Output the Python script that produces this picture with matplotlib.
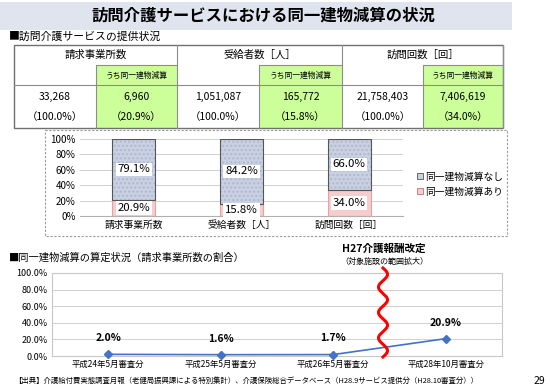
import numpy as np
import matplotlib
matplotlib.use("Agg")
import matplotlib.pyplot as plt
from matplotlib.patches import Rectangle

plt.rcParams['font.family'] = ['Noto Sans CJK JP', 'DejaVu Sans']

# --- data ---
table_groups = ["請求事業所数", "受給者数［人］", "訪問回数［回］"]
table_totals = ["33,268", "1,051,087", "21,758,403"]
table_subs = ["6,960", "165,772", "7,406,619"]
table_total_pct = ["（100.0%）", "（100.0%）", "（100.0%）"]
table_sub_pct = ["（20.9%）", "（15.8%）", "（34.0%）"]

bar_cats = ["請求事業所数", "受給者数［人］", "訪問回数［回］"]
bar_with = [20.9, 15.8, 34.0]      # 同一建物減算あり
bar_without = [79.1, 84.2, 66.0]   # 同一建物減算なし

line_cats = ["平成24年5月審査分", "平成25年5月審査分", "平成26年5月審査分", "平成28年10月審査分"]
line_vals = [2.0, 1.6, 1.7, 20.9]

W, H = 550, 390
fig = plt.figure(figsize=(W / 100, H / 100), dpi=100)


def fbox(x0, y0, x1, y1):
    # pixel box (top-left origin) -> figure fraction rect
    return [x0 / W, 1 - y1 / H, (x1 - x0) / W, (y1 - y0) / H]


# overlay for slide decorations
ov = fig.add_axes([0, 0, 1, 1])
ov.set_xlim(0, W)
ov.set_ylim(H, 0)
ov.axis("off")

ov.add_patch(Rectangle((0, 2), 512, 28, facecolor="#dfe4ef", edgecolor="none"))
ov.text(263, 16, "訪問介護サービスにおける同一建物減算の状況", ha="center", va="center",
        fontsize=11.8, fontweight="bold")
ov.text(9, 37, "■訪問介護サービスの提供状況", ha="left", va="center", fontsize=7.8)

# table
cols = [14, 96, 177, 259, 342, 423, 503]
y_top, y_sub, y_val, y_bot = 45, 65, 85, 128
green = "#ccff99"
lc = "#8c8c8c"
for i in range(3):
    gx0, gmid, gx1 = cols[2 * i], cols[2 * i + 1], cols[2 * i + 2]
    ov.add_patch(Rectangle((gmid, y_sub), gx1 - gmid, y_bot - y_sub,
                           facecolor=green, edgecolor="none"))
    ov.plot([gmid, gmid, gx1], [y_bot, y_sub, y_sub], color=lc, lw=0.8)
    ov.plot([gx1, gx1], [y_top, y_bot], color=lc, lw=0.8)
    ov.text((gx0 + gx1) / 2, 55, table_groups[i], ha="center", va="center", fontsize=7.5)
    ov.text((gmid + gx1) / 2, 76, "うち同一建物減算", ha="center", va="center", fontsize=5.6)
    ov.text((gx0 + gmid) / 2, 97, table_totals[i], ha="center", va="center", fontsize=7.5)
    ov.text((gmid + gx1) / 2, 97, table_subs[i], ha="center", va="center", fontsize=7.5)
    ov.text((gx0 + gmid) / 2, 117, table_total_pct[i], ha="center", va="center", fontsize=7.5)
    ov.text((gmid + gx1) / 2, 117, table_sub_pct[i], ha="center", va="center", fontsize=7.5)
ov.plot([cols[0], cols[-1]], [y_val, y_val], color=lc, lw=0.8)
ov.add_patch(Rectangle((cols[0], y_top), cols[-1] - cols[0], y_bot - y_top,
                       facecolor="none", edgecolor="#707070", lw=1.0))

# dashed frame around bar chart
ov.add_patch(Rectangle((45, 130), 462, 106, facecolor="none", edgecolor="#9a9a9a",
                       lw=0.8, ls=(0, (2, 1.5))))

ov.text(9, 257, "■同一建物減算の算定状況（請求事業所数の割合）", ha="left", va="center",
        fontsize=7.4)
ov.text(384, 249, "H27介護報酬改定", ha="center", va="center", fontsize=7.6, fontweight="bold")
ov.text(384, 261, "（対象施設の範囲拡大）", ha="center", va="center", fontsize=5.8)
ov.text(14, 381, "【出典】介護給付費実態調査月報（老健局振興課による特別集計）、介護保険総合データベース"
        "（H28.9サービス提供分（H28.10審査分））", ha="left", va="center", fontsize=5.3)
ov.text(545, 381, "29", ha="right", va="center", fontsize=7.5)

# --- stacked bar chart ---
ax = fig.add_axes(fbox(80, 139, 403, 216))
x = np.arange(len(bar_cats))
bw = 0.4
ax.bar(x, bar_with, bw, color="#f7cccc", edgecolor="#e8a0a0", lw=0.8, zorder=2)
ax.bar(x, bar_without, bw, bottom=bar_with, color="#c8d0e2", edgecolor="#aeb8cf",
       hatch="....", lw=0, zorder=2)
ax.bar(x, bar_without, bw, bottom=bar_with, fill=False, edgecolor="#555555", lw=0.8, zorder=3)
for xi, a, b in zip(x, bar_with, bar_without):
    bb = dict(facecolor="white", edgecolor="none", pad=1.2)
    ax.text(xi, a / 2, f"{a:.1f}%", ha="center", va="center", fontsize=8.2, bbox=bb, zorder=4)
    ax.text(xi, a + b / 2, f"{b:.1f}%", ha="center", va="center", fontsize=8.2, bbox=bb, zorder=4)
ax.set_xlim(-0.5, 2.5)
ax.set_ylim(0, 100)
ax.set_yticks(range(0, 101, 20))
ax.set_yticklabels([f"{v}%" for v in range(0, 101, 20)], fontsize=7)
ax.set_xticks(x)
ax.set_xticklabels(bar_cats, fontsize=7)
ax.tick_params(length=0, pad=3)
ax.grid(axis="y", color="#d0d0d0", lw=0.7, zorder=0)
for s in ["top", "left", "right"]:
    ax.spines[s].set_visible(False)
ax.spines["bottom"].set_color("#b0b0b0")
handles = [Rectangle((0, 0), 1, 1, facecolor="#c8d0e2", edgecolor="#555555", lw=0.6),
           Rectangle((0, 0), 1, 1, facecolor="#f7cccc", edgecolor="#c07070", lw=0.6)]
fig.legend(handles, ["同一建物減算なし", "同一建物減算あり"], loc="center left",
           bbox_to_anchor=(408 / W, 1 - 184 / H), frameon=False, fontsize=7,
           handlelength=0.6, handleheight=0.6, handletextpad=0.3, labelspacing=0.5)

# --- line chart ---
ax2 = fig.add_axes(fbox(52, 273, 502, 356))
xl = np.arange(len(line_cats))
ax2.plot(xl, line_vals, color="#4472c4", lw=1.2, marker="D", ms=4, zorder=3, clip_on=False)
for xi, v in zip(xl, line_vals):
    ax2.annotate(f"{v:.1f}%", (xi, v), xytext=(0, 8), textcoords="offset points",
                 ha="center", va="bottom", fontsize=7.5, fontweight="bold")
ax2.set_xlim(-0.5, 3.5)
ax2.set_ylim(0, 100)
ax2.set_yticks(range(0, 101, 20))
ax2.set_yticklabels([f"{v:.1f}%" for v in range(0, 101, 20)], fontsize=6.5)
ax2.set_xticks(xl)
ax2.set_xticklabels(line_cats, fontsize=6)
ax2.tick_params(length=0, pad=3)
ax2.grid(axis="y", color="#d0d0d0", lw=0.7, zorder=0)
for s in ax2.spines.values():
    s.set_color("#c8c8c8")
    s.set_linewidth(0.8)

# red wavy separator (decoration)
top = fig.add_axes([0, 0, 1, 1])
top.set_xlim(0, W)
top.set_ylim(H, 0)
top.axis("off")
yy = np.linspace(268, 357, 300)
top.plot(383 + 4.5 * np.sin((yy - 268) / 89 * 2 * np.pi * 3.5), yy, color="#ff0000", lw=2.2)

fig.savefig("out.png", dpi=100)
